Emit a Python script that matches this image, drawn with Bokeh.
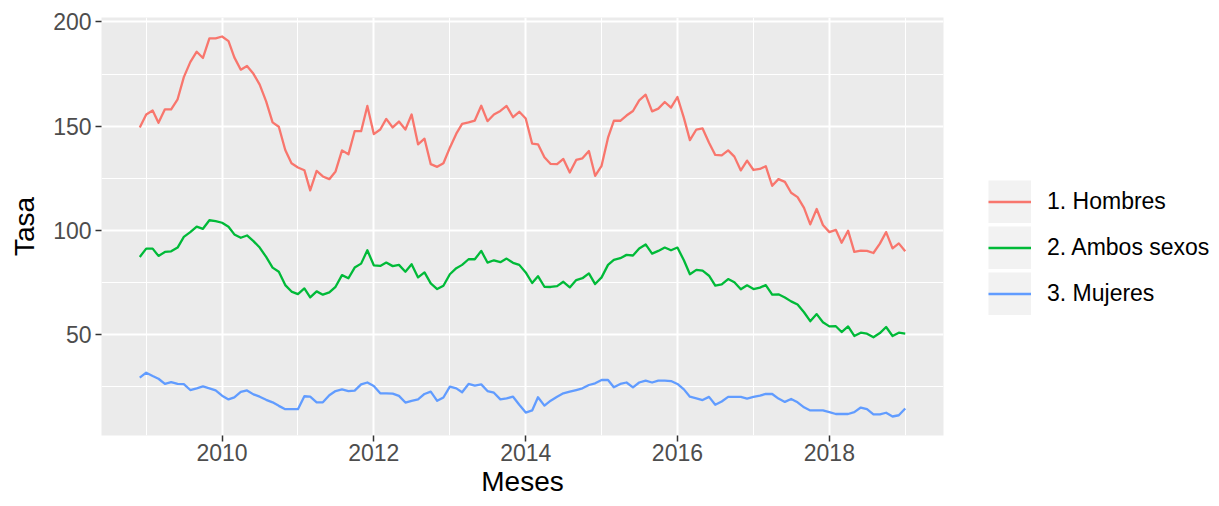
import pandas as pd
from bokeh.plotting import figure
from bokeh.models import (ColumnDataSource, Range1d, FixedTicker,
                          DatetimeTickFormatter, Legend, LegendItem)
from bokeh.embed import file_html
from bokeh.resources import INLINE

# ---------------- data ----------------
months = pd.date_range("2008-12-01", periods=122, freq="MS")

hombres = [
    149.4,
    155.6, 157.5, 151.6, 158.1, 158.1, 162.9, 173.5, 180.7, 185.7, 182.7, 192.1, 192.1,
    193.0, 190.8, 183.0, 177.1, 178.9, 175.1, 169.9, 161.9, 151.8, 149.7, 138.6, 132.2,
    130.2, 128.9, 119.2, 128.6, 125.9, 124.6, 128.3, 138.4, 136.5, 147.6, 147.6, 159.7,
    146.2, 148.4, 153.5, 149.4, 152.2, 148.4, 155.6, 141.3, 144.0, 131.8, 130.5, 132.2,
    139.7, 146.4, 151.1, 151.8, 152.7, 159.8, 152.4, 155.6, 157.3, 159.7, 154.3, 156.9,
    153.7, 141.6, 141.3, 135.1, 131.9, 131.8, 134.3, 127.8, 133.8, 134.6, 138.1, 126.2,
    131.0, 144.5, 152.6, 152.6, 155.1, 157.3, 162.4, 165.1, 157.1, 158.4, 161.6, 158.9,
    164.0, 154.0, 143.3, 148.4, 148.9, 142.1, 136.2, 136.0, 138.4, 135.4, 128.8, 133.5,
    129.0, 129.5, 130.8, 121.4, 124.6, 123.3, 118.1, 116.0, 110.8, 102.9, 110.3, 102.6,
    99.2, 100.3, 94.1, 99.9, 89.7, 90.3, 90.2, 89.2, 93.7, 99.2, 91.4, 93.8,
    90.0,
]

ambos = [
    87.3,
    91.3, 91.3, 87.8, 89.7, 90.0, 91.8, 96.9, 99.2, 101.8, 100.8, 104.9, 104.5,
    103.7, 101.8, 98.1, 96.5, 97.6, 94.9, 91.8, 87.3, 82.2, 80.2, 73.8, 70.7,
    69.5, 72.2, 67.9, 70.8, 69.2, 70.3, 73.0, 78.6, 77.1, 82.2, 84.1, 90.5,
    83.3, 83.0, 84.6, 82.9, 83.5, 80.2, 83.8, 77.5, 79.9, 74.6, 71.9, 73.5,
    79.0, 81.9, 83.5, 86.2, 86.2, 90.2, 84.6, 85.7, 84.8, 86.5, 84.5, 83.5,
    79.9, 74.8, 78.1, 73.0, 72.9, 73.3, 75.4, 72.7, 76.2, 77.1, 79.4, 74.3,
    77.5, 83.5, 85.9, 86.7, 88.3, 88.0, 91.4, 93.3, 88.9, 90.2, 91.8, 90.5,
    91.8, 85.7, 79.0, 81.1, 80.7, 78.3, 73.6, 74.1, 76.7, 75.2, 71.8, 73.7,
    71.9, 72.6, 73.8, 69.2, 69.4, 67.9, 66.0, 64.5, 60.8, 56.5, 59.9, 56.0,
    54.0, 54.1, 51.3, 54.0, 49.4, 51.0, 50.5, 48.8, 50.8, 53.7, 49.4, 51.0,
    50.5,
]

mujeres = [
    29.4,
    31.8, 30.2, 28.9, 26.4, 27.3, 26.4, 26.3, 23.5, 24.3, 25.2, 24.3, 23.3,
    20.8, 19.0, 20.0, 22.6, 23.3, 21.4, 20.3, 18.8, 17.6, 15.9, 14.3, 14.3,
    14.3, 20.5, 20.3, 17.6, 17.6, 21.0, 23.0, 23.8, 23.0, 23.2, 26.2, 27.1,
    25.4, 21.9, 21.9, 21.8, 20.7, 17.5, 18.3, 19.0, 21.6, 22.7, 18.3, 19.9,
    25.1, 24.3, 22.4, 26.4, 25.6, 26.2, 23.0, 22.2, 19.0, 19.5, 20.3, 16.4,
    12.7, 13.7, 20.0, 16.0, 18.4, 20.3, 21.9, 22.7, 23.5, 24.3, 25.9, 26.7,
    28.3, 28.3, 24.8, 26.4, 27.1, 24.8, 27.1, 28.0, 27.1, 28.0, 28.0, 27.8,
    26.4, 23.8, 20.3, 19.5, 18.7, 20.2, 16.4, 18.0, 20.2, 20.2, 20.2, 19.4,
    20.2, 20.8, 21.6, 21.6, 19.4, 17.8, 19.2, 17.6, 15.2, 13.7, 13.7, 13.7,
    12.9, 12.0, 12.0, 12.0, 12.9, 15.1, 14.3, 11.8, 11.8, 12.6, 10.8, 11.4,
    14.6,
]

series_names = ["1. Hombres", "2. Ambos sexos", "3. Mujeres"]
series_colors = ["#F8766D", "#00BA38", "#619CFF"]

x_major_years = [2010, 2012, 2014, 2016, 2018]
x_minor_years = [2009, 2011, 2013, 2015, 2017, 2019]
y_major = [50, 100, 150, 200]
y_minor = [25, 75, 125, 175]

x_title = "Meses"
y_title = "Tasa"

# ---------------- helpers ----------------
def ms(ts):
    return pd.Timestamp(ts).value // 10**6

t0, t1 = ms(months[0]), ms(months[-1])
xpad = 0.05 * (t1 - t0)
all_vals = hombres + ambos + mujeres
ymin, ymax = min(all_vals), max(all_vals)
ypad = 0.05 * (ymax - ymin)

FONT = "Liberation Sans"

p = figure(frame_width=842, frame_height=418, x_axis_type="datetime",
           output_backend="svg", toolbar_location=None,
           x_range=Range1d(t0 - xpad, t1 + xpad),
           y_range=Range1d(ymin - ypad, ymax + ypad),
           min_border_left=101, min_border_right=255,
           min_border_top=17, min_border_bottom=0)

p.background_fill_color = "#EBEBEB"
p.border_fill_color = "white"
p.outline_line_color = None

# tickers
p.xaxis.ticker = FixedTicker(ticks=[ms(f"{y}-01-01") for y in x_major_years],
                             minor_ticks=[ms(f"{y}-01-01") for y in x_minor_years])
p.yaxis.ticker = FixedTicker(ticks=y_major, minor_ticks=y_minor)
p.xaxis.formatter = DatetimeTickFormatter(years="%Y", months="%Y", days="%Y",
                                          hours="%Y", minutes="%Y", seconds="%Y",
                                          milliseconds="%Y", microseconds="%Y")

for g in (p.xgrid, p.ygrid):
    g.grid_line_color = "white"
    g.grid_line_width = 2
    g.minor_grid_line_color = "white"
    g.minor_grid_line_width = 1

for ax in (p.xaxis, p.yaxis):
    ax.axis_line_color = None
    ax.major_tick_line_color = "#333333"
    ax.major_tick_line_width = 1.5
    ax.major_tick_out = 6
    ax.major_tick_in = 0
    ax.minor_tick_line_color = None
    ax.major_label_text_font = FONT
    ax.major_label_text_font_size = "23px"
    ax.major_label_text_color = "#4D4D4D"
    ax.axis_label_text_font = FONT
    ax.axis_label_text_font_size = "28px"
    ax.axis_label_text_font_style = "normal"
    ax.axis_label_text_color = "black"

p.xaxis.axis_label = x_title
p.yaxis.axis_label = y_title
p.xaxis.major_label_standoff = 2
p.yaxis.major_label_standoff = 4
p.xaxis.axis_label_standoff = 2
p.yaxis.axis_label_standoff = 10

# ---------------- lines ----------------
items = []
for name, vals, col in zip(series_names, [hombres, ambos, mujeres], series_colors):
    src = ColumnDataSource(dict(x=months, y=vals))
    # legend key background (a single undefined point: draws nothing on the plot)
    key_src = ColumnDataSource(dict(x=[months[0]], y=[float("nan")]))
    bg = p.line("x", "y", source=key_src, line_color="#F2F2F2", line_width=43,
                line_cap="butt")
    r = p.line("x", "y", source=src, line_color=col, line_width=2.3,
               line_join="round")
    items.append(LegendItem(label=name, renderers=[bg, r]))

legend = Legend(items=items, location=(45, 120), orientation="vertical",
                glyph_width=43, glyph_height=43, spacing=3, padding=0, margin=0,
                label_standoff=16, label_text_font=FONT,
                label_text_font_size="23px", label_text_color="black",
                label_text_baseline="middle",
                background_fill_alpha=0, border_line_color=None)
p.add_layout(legend, "right")

open("out.html", "w").write(file_html(p, INLINE))
